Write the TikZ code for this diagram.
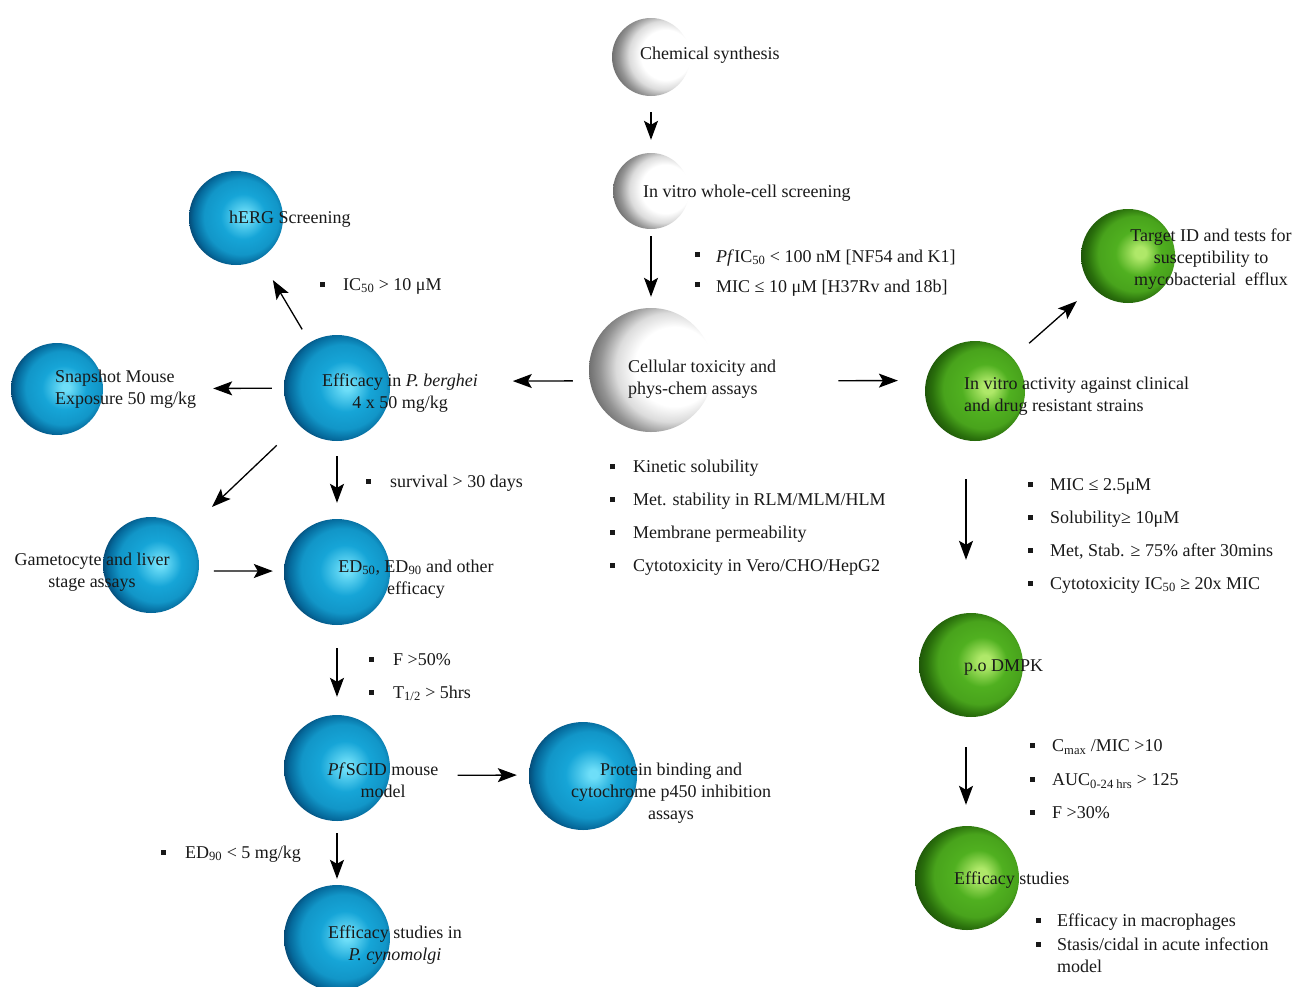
\documentclass[tikz,border=0pt]{standalone}
\usepackage{fontspec}
\setmainfont{Liberation Serif}
\usetikzlibrary{arrows.meta}

% sphere colours
\definecolor{bhi}{RGB}{110,222,248}
\definecolor{bmid}{RGB}{22,165,215}
\definecolor{bdark}{RGB}{5,105,155}
\definecolor{bedge}{RGB}{5,55,95}
\definecolor{ghi}{RGB}{175,232,105}
\definecolor{gmid}{RGB}{80,176,32}
\definecolor{gdark}{RGB}{42,112,12}
\definecolor{gedge}{RGB}{28,80,8}
\definecolor{txt}{RGB}{25,25,25}

\pgfdeclareradialshading{bluesph}{\pgfpoint{5bp}{1bp}}{%
  color(0bp)=(bhi); color(2bp)=(bhi); color(12bp)=(bmid);
  color(20bp)=(bmid!75!bdark); color(25bp)=(bdark); color(29bp)=(bedge); color(50bp)=(bedge)}
\pgfdeclareradialshading{greensph}{\pgfpoint{7bp}{2bp}}{%
  color(0bp)=(ghi); color(3bp)=(ghi); color(12bp)=(gmid);
  color(20bp)=(gmid!80!gdark); color(25bp)=(gdark); color(29bp)=(gedge); color(50bp)=(gedge)}
\pgfdeclareradialshading{whitesph}{\pgfpoint{14bp}{2bp}}{%
  color(0bp)=(white); color(16bp)=(white); color(22bp)=(black!14);
  color(27bp)=(black!42); color(31bp)=(black!58); color(50bp)=(black!58)}

\newcommand\fs{\fontsize{18}{21.7}\selectfont}
\newcommand\bsq{\rule[3.5pt]{5pt}{5pt}}
\newcommand\bsqhi{\rule[5.5pt]{5pt}{5pt}}

\begin{document}
\begin{tikzpicture}[x=1pt,y=-1pt,
  sph/.style={circle,inner sep=0pt,draw=none,shade},
  bsph/.style={sph,shading=bluesph},
  gsph/.style={sph,shading=greensph},
  wsph/.style={sph,shading=whitesph},
  lbl/.style={inner sep=0pt,font=\fs,text=txt},
  arr/.style={line width=1.3pt,-{Stealth[length=19pt,width=14pt,inset=4pt]}}]
\fill[white] (0,0) rectangle (1299,986);
\useasboundingbox (0,0) rectangle (1299,986);

% spheres
\node[wsph,minimum size=78pt]  (chem) at (651,57)  {};
\node[wsph,minimum size=76pt]  (wcs)  at (651,191) {};
\node[wsph,minimum size=124pt] (cell) at (651,370) {};
\node[bsph,minimum size=94pt]  (herg) at (236,218) {};
\node[bsph,minimum size=106pt] (berg) at (337,388) {};
\node[bsph,minimum size=92pt]  (snap) at (57,389)  {};
\node[bsph,minimum size=96pt]  (game) at (151,565) {};
\node[bsph,minimum size=106pt] (ed)   at (337,572) {};
\node[bsph,minimum size=106pt] (scid) at (337,768) {};
\node[bsph,minimum size=108pt] (prot) at (583,776) {};
\node[bsph,minimum size=106pt] (cyno) at (337,938) {};
\node[gsph,minimum size=94pt]  (targ) at (1128,256) {};
\node[gsph,minimum size=100pt] (act)  at (975,391) {};
\node[gsph,minimum size=104pt] (dmpk) at (971,665) {};
\node[gsph,minimum size=104pt] (effs) at (967,878) {};

% sphere labels (multi-line nodes are placed by the baseline of their last line)
\node[lbl,anchor=base west] (tchem) at (640,59) {Chemical synthesis};
\node[lbl,anchor=base west] (twcs) at (643,197) {In vitro whole-cell screening};
\node[lbl,anchor=base west,align=left] (tcell) at (628,394) {Cellular toxicity and\\phys-chem assays};
\node[lbl,anchor=base west] (therg) at (229,223) {hERG Screening};
\node[lbl,anchor=base,align=center] (tberg) at (400,408) {Efficacy in \textit{P. berghei}\\4 x 50 mg/kg};
\node[lbl,anchor=base west,align=left] (tsnap) at (55,404) {Snapshot Mouse\\Exposure 50 mg/kg};
\node[lbl,anchor=base,align=center] (tgame) at (92,587) {Gametocyte and liver\\stage assays};
\node[lbl,anchor=base,align=center] (ted) at (416,594) {ED\textsubscript{50}, ED\textsubscript{90} and other\\efficacy};
\node[lbl,anchor=base,align=center] (tscid) at (383,797) {\textit{Pf}SCID mouse\\model};
\node[lbl,anchor=base,align=center] (tprot) at (671,819) {Protein binding and\\cytochrome p450 inhibition\\assays};
\node[lbl,anchor=base,align=center] (tcyno) at (395,960) {Efficacy studies in\\\textit{P. cynomolgi}};
\node[lbl,anchor=base,align=center] (ttarg) at (1211,285) {Target ID and tests for\\susceptibility to\\mycobacterial~ efflux};
\node[lbl,anchor=base west,align=left] (tact) at (964,411) {In vitro activity against clinical\\and drug resistant strains};
\node[lbl,anchor=base west] (tdmpk) at (964,671) {p.o DMPK};
\node[lbl,anchor=base west] (teffs) at (954,884) {Efficacy studies};

% criteria lists
\node[lbl,anchor=base west,align=left] (lpf) at (695,292)
  {\bsqhi\hspace{16pt}\textit{Pf}IC\textsubscript{50} < 100 nM [NF54 and K1]\\[8.3pt]
   \bsqhi\hspace{16pt}MIC ≤ 10 μM [H37Rv and 18b]};
\node[lbl,anchor=base west,align=left] (lcell) at (610,571)
  {\bsq\hspace{18pt}Kinetic solubility\\[11pt]
   \bsq\hspace{18pt}Met. stability in RLM/MLM/HLM\\[11pt]
   \bsq\hspace{18pt}Membrane permeability\\[11pt]
   \bsq\hspace{18pt}Cytotoxicity in Vero/CHO/HepG2};
\node[lbl,anchor=base west] (lic) at (320,290) {\bsq\hspace{18pt}IC\textsubscript{50} > 10 μM};
\node[lbl,anchor=base west] (lsurv) at (366,487) {\bsq\hspace{19pt}survival > 30 days};
\node[lbl,anchor=base west,align=left] (lf) at (369,698)
  {\bsq\hspace{19pt}F >50\%\\[11pt]\bsq\hspace{19pt}T\textsubscript{1/2} > 5hrs};
\node[lbl,anchor=base west] (led) at (161,858) {\bsq\hspace{19pt}ED\textsubscript{90} < 5 mg/kg};
\node[lbl,anchor=base west,align=left] (lmic) at (1028,589)
  {\bsq\hspace{17pt}MIC ≤ 2.5μM\\[11pt]
   \bsq\hspace{17pt}Solubility≥ 10μM\\[11pt]
   \bsq\hspace{17pt}Met, Stab. ≥ 75\% after 30mins\\[11pt]
   \bsq\hspace{17pt}Cytotoxicity IC\textsubscript{50} ≥ 20x MIC};
\node[lbl,anchor=base west,align=left] (lcmax) at (1030,818)
  {\bsq\hspace{17pt}C\textsubscript{max} /MIC >10\\[12pt]
   \bsq\hspace{17pt}AUC\textsubscript{0-24 hrs} > 125\\[11pt]
   \bsq\hspace{17pt}F >30\%};
\node[lbl,anchor=base west,align=left] (leff) at (1036,972)
  {\bsq\hspace{16pt}Efficacy in macrophages\\[2pt]
   \bsq\hspace{16pt}Stasis/cidal in acute infection\\
   \hspace{21pt}model};

% connectors
\draw[arr,shorten <=16pt,shorten >=13pt] (chem) -- (wcs);
\draw[arr,shorten <=7pt,shorten >=11pt] (wcs) -- (cell);
\draw[arr,shorten <=17pt,shorten >=123pt] (cell.190) -- (berg.7);
\draw[arr,shorten <=126pt,shorten >=28pt] (cell.-10) -- (act.168);
\draw[arr,shorten <=15pt,shorten >=25pt] (berg) -- (herg);
\draw[arr,shorten <=12pt,shorten >=110pt] (berg) -- (snap);
\draw[arr,shorten <=30pt,shorten >=36pt] (berg) -- (game);
\draw[arr,shorten <=15pt,shorten >=16pt] (berg) -- (ed);
\draw[arr,shorten <=15pt,shorten >=11pt] (game.-7) -- (ed.179);
\draw[arr,shorten <=23pt,shorten >=18pt] (ed) -- (scid);
\draw[arr,shorten <=68pt,shorten >=12pt] (scid.-8) -- (prot.179);
\draw[arr,shorten <=12pt,shorten >=6pt] (scid) -- (cyno);
\draw[arr,shorten <=22pt,shorten >=21pt] (act) -- (targ);
\draw[arr,shorten <=38pt,shorten >=53pt] ([xshift=-9pt]act.south) -- ([xshift=-5pt]dmpk.north);
\draw[arr,shorten <=30pt,shorten >=21pt] ([xshift=-5pt]dmpk.south) -- ([xshift=-1pt]effs.north);
\end{tikzpicture}
\end{document}
